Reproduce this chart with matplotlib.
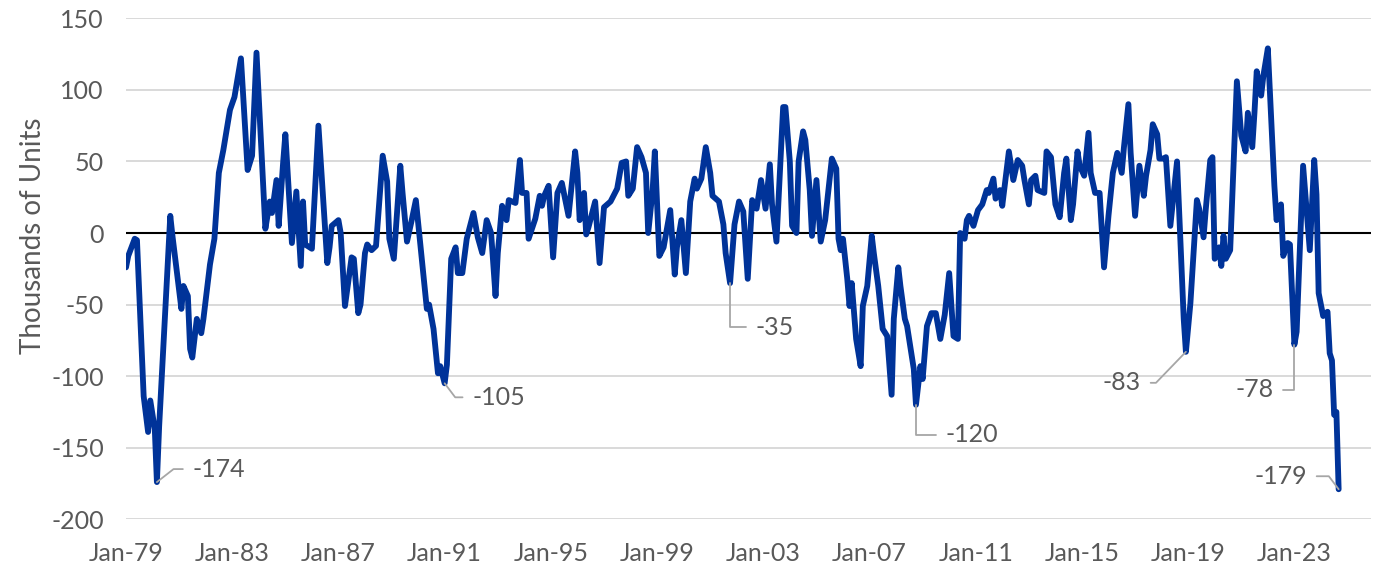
import pandas as pd
import matplotlib
matplotlib.use('Agg')
import matplotlib.pyplot as plt

# monthly readings (thousands of units), turning points
dates = [
    '1979-01', '1979-02', '1979-05', '1979-06', '1979-09', '1979-11', '1979-12', '1980-02', '1980-03', '1980-04',
    '1980-09', '1980-10', '1981-02', '1981-03', '1981-05', '1981-06', '1981-07', '1981-09', '1981-11', '1981-12',
    '1982-03', '1982-05', '1982-07', '1982-09', '1982-12', '1983-02', '1983-05', '1983-08', '1983-10', '1983-12',
    '1984-04', '1984-06', '1984-07', '1984-09', '1984-10', '1984-12', '1985-01', '1985-04', '1985-06', '1985-08',
    '1985-09', '1985-10', '1986-01', '1986-04', '1986-08', '1986-09', '1986-10', '1987-01', '1987-02', '1987-04',
    '1987-07', '1987-08', '1987-10', '1987-11', '1988-01', '1988-02', '1988-04', '1988-06', '1988-09', '1988-11',
    '1988-12', '1989-02', '1989-05', '1989-06', '1989-08', '1989-10', '1989-12', '1990-05', '1990-06', '1990-08',
    '1990-10', '1990-11', '1991-01', '1991-02', '1991-04', '1991-06', '1991-07', '1991-09', '1991-11', '1992-02',
    '1992-04', '1992-06', '1992-08', '1992-10', '1992-12', '1993-01', '1993-03', '1993-05', '1993-06', '1993-09',
    '1993-11', '1993-12', '1994-02', '1994-03', '1994-06', '1994-08', '1994-09', '1994-10', '1994-12', '1995-02',
    '1995-04', '1995-06', '1995-09', '1995-12', '1996-01', '1996-02', '1996-04', '1996-05', '1996-06', '1996-09',
    '1996-11', '1997-01', '1997-04', '1997-07', '1997-09', '1997-11', '1997-12', '1998-02', '1998-04', '1998-06',
    '1998-08', '1998-09', '1998-11', '1998-12', '1999-02', '1999-04', '1999-07', '1999-09', '1999-10', '1999-12',
    '2000-02', '2000-04', '2000-06', '2000-07', '2000-09', '2000-11', '2001-01', '2001-02', '2001-05', '2001-07',
    '2001-08', '2001-10', '2001-12', '2002-02', '2002-04', '2002-06', '2002-08', '2002-10', '2002-12', '2003-02',
    '2003-04', '2003-05', '2003-07', '2003-10', '2003-11', '2004-01', '2004-02', '2004-04', '2004-05', '2004-07',
    '2004-08', '2004-10', '2004-11', '2005-01', '2005-03', '2005-05', '2005-08', '2005-10', '2005-11', '2005-12',
    '2006-01', '2006-03', '2006-04', '2006-05', '2006-07', '2006-09', '2006-10', '2006-12', '2007-02', '2007-03',
    '2007-05', '2007-07', '2007-09', '2007-11', '2007-12', '2008-02', '2008-03', '2008-05', '2008-06', '2008-09',
    '2008-10', '2008-12', '2009-01', '2009-03', '2009-05', '2009-07', '2009-09', '2009-11', '2010-01', '2010-03',
    '2010-05', '2010-06', '2010-08', '2010-09', '2010-10', '2010-12', '2011-02', '2011-04', '2011-06', '2011-07',
    '2011-09', '2011-10', '2011-12', '2012-01', '2012-04', '2012-06', '2012-08', '2012-10', '2012-11', '2013-01',
    '2013-02', '2013-04', '2013-05', '2013-08', '2013-09', '2013-11', '2014-01', '2014-03', '2014-05', '2014-06',
    '2014-08', '2014-09', '2014-11', '2014-12', '2015-02', '2015-04', '2015-05', '2015-07', '2015-09', '2015-11',
    '2016-01', '2016-03', '2016-05', '2016-07', '2016-08', '2016-10', '2016-11', '2017-01', '2017-03', '2017-05',
    '2017-06', '2017-08', '2017-09', '2017-11', '2017-12', '2018-02', '2018-03', '2018-05', '2018-08', '2018-11',
    '2018-12', '2019-02', '2019-05', '2019-06', '2019-08', '2019-09', '2019-11', '2019-12', '2020-01', '2020-03',
    '2020-04', '2020-05', '2020-06', '2020-08', '2020-11', '2021-01', '2021-03', '2021-04', '2021-06', '2021-07',
    '2021-08', '2021-10', '2021-11', '2022-01', '2022-02', '2022-04', '2022-05', '2022-07', '2022-08', '2022-10',
    '2022-11', '2023-01', '2023-02', '2023-05', '2023-06', '2023-08', '2023-10', '2023-11', '2023-12', '2024-02',
    '2024-04', '2024-05', '2024-06', '2024-07', '2024-08', '2024-09',
]
values = [
    -24, -16, -4, -5, -114, -139, -117, -137, -174, -135,
    12, -2, -53, -37, -44, -81, -87, -60, -70, -60,
    -22, -4, 42, 58, 86, 95, 122, 44, 54, 126,
    3, 22, 14, 37, 5, 49, 69, -7, 29, -23,
    22, -8, -11, 75, -21, -10, 5, 9, 0, -51,
    -17, -18, -56, -50, -14, -8, -12, -9, 54, 36,
    -4, -18, 47, 28, -6, 8, 23, -53, -50, -67,
    -98, -93, -105, -92, -18, -10, -28, -28, -4, 14,
    -3, -14, 9, 0, -44, -14, 19, 9, 23, 21,
    51, 28, 28, -4, 10, 26, 19, 26, 33, -17,
    28, 35, 12, 57, 42, 9, 28, -1, 4, 22,
    -21, 18, 22, 31, 49, 50, 26, 31, 60, 53,
    42, 0, 30, 57, -16, -10, 16, -29, -10, 9,
    -28, 22, 38, 31, 38, 60, 42, 26, 22, 6,
    -14, -35, 6, 22, 15, -32, 23, 17, 37, 17,
    48, 20, -6, 88, 88, 50, 5, 0, 50, 71,
    65, 30, -2, 37, -6, 9, 52, 45, -4, -12,
    -4, -32, -51, -35, -74, -93, -51, -37, -2, -14,
    -37, -67, -72, -113, -60, -24, -37, -60, -65, -95,
    -120, -93, -102, -65, -56, -56, -74, -57, -28, -72,
    -74, 0, -4, 9, 12, 5, 16, 20, 30, 28,
    38, 24, 30, 19, 57, 37, 51, 47, 37, 20,
    37, 40, 30, 28, 57, 53, 20, 11, 42, 52,
    9, 20, 57, 47, 40, 70, 42, 28, 28, -24,
    12, 42, 56, 42, 60, 90, 56, 12, 47, 26,
    40, 58, 76, 69, 52, 52, 53, 5, 50, -60,
    -83, -49, 23, 17, -3, 17, 51, 53, -18, -10,
    -23, -2, -18, -12, 106, 68, 57, 84, 60, 84,
    113, 96, 110, 129, 96, 33, 9, 20, -16, -7,
    -8, -78, -69, 47, 27, -12, 51, 27, -42, -58,
    -55, -84, -89, -127, -125, -179,
]

tick_years = list(range(1979, 2024, 4))
yticks = [-200, -150, -100, -50, 0, 50, 100, 150]

# labelled troughs: date, (dx, dy) text offset in pixels, leader angle at the point
callouts = [
    ('1980-03', (62, 13), 38),
    ('1991-01', (54, -14), -53),
    ('2001-10', (45, -44), 90),
    ('2008-10', (56, -30), 90),
    ('2018-12', (-64, -31), 46),
    ('2023-01', (-40, -45), 90),
    ('2024-09', (-58, 13), -53),
]

series = pd.Series(values, index=pd.to_datetime(dates))

FONT = 'Lato'
GREY = '#595959'
BLUE = '#003399'

fig = plt.figure(figsize=(13.85, 5.71), dpi=100)
ax = fig.add_axes([126 / 1385, 51.7 / 571, 1245 / 1385, 501 / 571])

ax.plot(series.index, series.values, color=BLUE, lw=4.2, solid_joinstyle='round',
        solid_capstyle='round', zorder=3)
ax.axhline(0, color='black', lw=1.5, zorder=2)

ax.set_ylim(-200, 150)
ax.set_xlim(pd.Timestamp('1979-01-01'), pd.Timestamp('2025-11-20'))
ax.set_yticks(yticks)
ax.set_yticklabels([str(v) for v in yticks])
ax.set_xticks(pd.to_datetime([f'{y}-01-01' for y in tick_years]))
ax.set_xticklabels([f'Jan-{y % 100:02d}' for y in tick_years])

ax.grid(axis='y', color='#D9D9D9', lw=1.4, zorder=1)
ax.set_axisbelow(True)
for s in ax.spines.values():
    s.set_visible(False)
ax.tick_params(length=0, labelcolor=GREY, labelsize=18)
ax.tick_params(axis='x', pad=16)
ax.tick_params(axis='y', pad=16)
for lab in ax.get_xticklabels() + ax.get_yticklabels():
    lab.set_fontfamily(FONT)

ax.set_ylabel('Thousands of Units', fontsize=20, color=GREY, family=FONT)
ax.yaxis.set_label_coords(-0.064, 0.565)

for d, (dx, dy), ang in callouts:
    t = pd.Timestamp(d)
    v = series[t]
    ax.annotate(f'{v:.0f}', xy=(t, v), xytext=(dx, dy), textcoords='offset pixels',
                ha='center', va='center', fontsize=18, color=GREY, family=FONT,
                arrowprops=dict(arrowstyle='-', color='#A6A6A6', lw=1.3,
                                shrinkA=5, shrinkB=0,
                                connectionstyle=f'angle,angleA=0,angleB={ang},rad=0'),
                zorder=4)

fig.savefig('out.png', dpi=100)
